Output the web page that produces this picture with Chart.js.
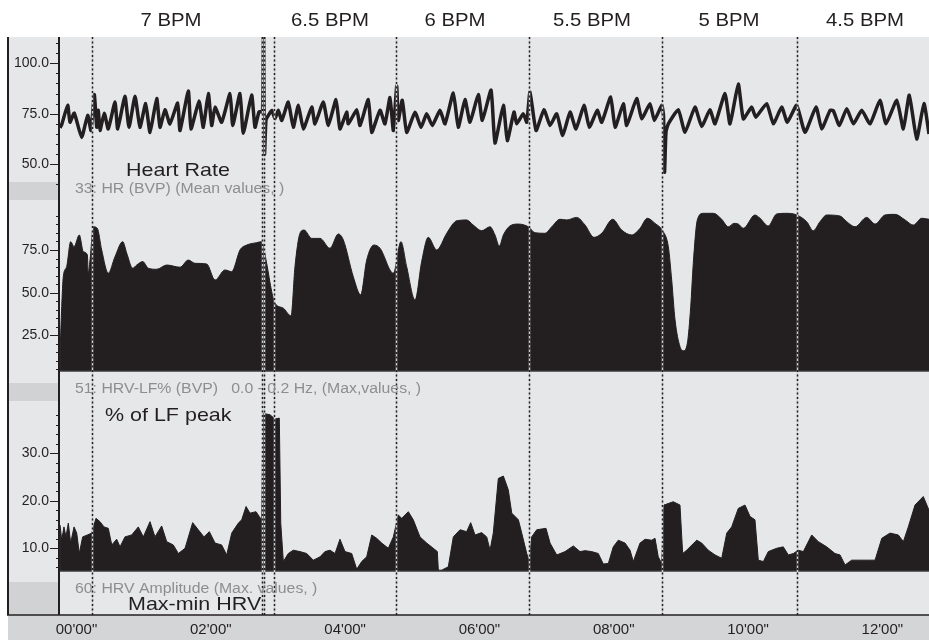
<!DOCTYPE html>
<html>
<head>
<meta charset="utf-8">
<script src="https://cdn.jsdelivr.net/npm/chart.js@4.4.1/dist/chart.umd.min.js"></script>
<style>
  html, body { margin: 0; padding: 0; background: #fff; }
  #wrap { position: relative; width: 929px; height: 641px; }
</style>
</head>
<body>
<div id="wrap"><canvas id="chart"></canvas></div>
<script>
// --- DATA (time in seconds) ---
const timeTicks = [0, 120, 240, 360, 480, 600, 720];
const epochMarks = [13.9, 165.3, 167.5, 176.5, 285.5, 404.3, 523.2, 643.8];
const bpmLabels = ['7 BPM', '6.5 BPM', '6 BPM', '5.5 BPM', '5 BPM', '4.5 BPM'];
const bpmLabelTimes = [84.4, 226.5, 338.2, 460.6, 583.0, 704.5];

// 33: HR (BVP), mean values [t, bpm]
const heartRate = [
  [-14.7, 68], [-13.0, 70], [-7.9, 79.2], [-5.8, 70.8], [-2.0, 75.3], [4.6, 63.3], [10.0, 74.2], [13.0, 66.7],
  [15.9, 84.5], [18.1, 68.3], [19.5, 76.7], [21.0, 66.7], [24.8, 75.3], [28.4, 67.5], [34.4, 80.8], [36.8, 67.5],
  [43.3, 83.7], [46.9, 68.3], [52.3, 83.7], [56.7, 68.3], [61.8, 80], [65.7, 65.8], [71.7, 82.5], [74.6, 68.3],
  [79.1, 77], [83.5, 70], [90.4, 80.3], [92.5, 66.7], [99.9, 86.3], [102.3, 67.5], [109.5, 81.3], [113.3, 68.3],
  [117.8, 85], [120.8, 69.2], [123.8, 78.3], [129.7, 70.8], [137.2, 85], [139.6, 69.2], [146.1, 85], [149.0, 65.3],
  [156.5, 84.2], [159.5, 68.3], [163.1, 76], [166.2, 76], [167.1, 120], [168.0, 55], [169.3, 72], [171.4, 74.2],
  [174.4, 76.7], [177.4, 72.5], [180.3, 76.7], [183.4, 71.7], [189.2, 80.8], [193.7, 68.3], [198.2, 79.2], [202.7, 67.5],
  [210.2, 78.3], [213.1, 70], [220.5, 80.8], [225.0, 69.2], [231.9, 82], [235.4, 67.5], [241.4, 75.8], [242.9, 70],
  [250.4, 77], [253.3, 69.2], [260.7, 82], [263.8, 65.8], [271.2, 76.7], [275.6, 70], [280.1, 83], [283.1, 66.7],
  [286.1, 88.7], [287.5, 71.7], [291.1, 81.7], [295.0, 65.8], [302.5, 75.8], [307.8, 68.3], [312.9, 75], [317.9, 69.2],
  [324.8, 76.7], [329.3, 70], [336.7, 85.3], [341.1, 68.3], [347.1, 82], [351.6, 70.8], [359.0, 84.5], [362.6, 71.7],
  [370.4, 86.7], [373.9, 60.5], [381.4, 79.2], [384.9, 61.7], [390.9, 75.8], [393.3, 70], [399.2, 75], [402.3, 70.8],
  [405.2, 85.8], [410.6, 66.7], [417.7, 77], [423.1, 69.2], [429.1, 75], [434.4, 64.2], [441.0, 75.8], [446.3, 67.5],
  [453.5, 79.2], [458.2, 68.3], [465.3, 76.7], [469.3, 70.8], [477.3, 83.3], [481.2, 68.3], [488.6, 80], [491.6, 69.2],
  [500.5, 82.5], [505.0, 72.5], [512.4, 80], [516.3, 71.7], [522.9, 79.2], [524.5, 74], [525.4, 46], [526.7, 66],
  [528.8, 70], [537.7, 77], [543.7, 65.8], [552.6, 78.3], [558.6, 68.7], [566.0, 77], [570.5, 70], [579.4, 85],
  [583.9, 70], [591.3, 89.7], [595.8, 72.5], [603.3, 78.3], [606.9, 73.3], [616.7, 80], [622.6, 70], [630.1, 78.3],
  [635.1, 70.8], [643.5, 79.2], [650.9, 65.8], [660.8, 78.3], [665.8, 67.5], [673.3, 76.7], [676.2, 76.5], [681.6, 69.2],
  [688.2, 77.5], [694.1, 70], [701.6, 76.7], [709.0, 70], [717.9, 81.7], [723.3, 70], [732.9, 81.7], [738.8, 67.5],
  [744.1, 84.2], [750.7, 62.5], [757.2, 80], [761.7, 65]
];

// 51: HRV-LF% (BVP) 0.0 - 0.2 Hz [t, %]
const lfPercent = [
  [-14.7, 14.5], [-13.2, 41.8], [-11.8, 59.4], [-8.8, 65.2], [-5.2, 79.9], [-2.2, 76.9], [2.5, 83.8], [6.1, 74],
  [9.7, 72.1], [10.5, 61.4], [12.1, 69.1], [15.0, 88.6], [18.6, 87.7], [22.5, 75], [28.4, 61.4], [34.4, 71.1],
  [41.3, 79.9], [44.9, 73.1], [50.2, 64.3], [53.8, 66.2], [59.2, 68.2], [64.2, 64.3], [71.7, 63.7], [80.6, 66.2],
  [92.5, 64.9], [99.9, 69.1], [105.9, 67.2], [116.3, 66.8], [123.8, 57.4], [132.7, 63.3], [138.7, 62.3], [146.1, 75],
  [152.1, 77.9], [161.0, 79.3], [165.5, 79.9], [169.9, 67.2], [174.4, 50.6], [177.4, 43.8], [184.8, 40.9], [191.7, 36.4],
  [195.2, 65.2], [199.7, 84.8], [203.3, 86.7], [210.2, 81.8], [217.6, 81.8], [226.5, 76], [233.9, 84.4], [238.4, 80.9],
  [247.3, 59.4], [253.9, 48.7], [259.3, 69.1], [265.8, 77.9], [271.2, 76], [283.1, 61.4], [289.9, 79.9], [295.0, 65.2],
  [302.5, 45.7], [308.4, 68.2], [314.3, 82.4], [321.8, 75], [330.8, 84.8], [338.2, 91.6], [342.7, 92.4], [348.6, 92.6],
  [354.5, 89.6], [362.0, 86.3], [369.5, 88.6], [373.9, 83.8], [377.8, 77.3], [381.4, 83.8], [387.3, 89.1], [394.8, 90.2],
  [403.7, 88.6], [409.7, 85.1], [418.6, 84.8], [424.6, 88.6], [432.0, 93], [438.0, 92.6], [446.9, 94.1], [454.4, 89.6],
  [462.4, 82.4], [469.3, 84.8], [479.1, 93], [487.1, 86.7], [496.1, 83.8], [503.5, 87.7], [510.0, 93.6], [516.9, 90.6],
  [524.3, 85.7], [528.8, 76.9], [531.8, 57.4], [534.8, 34], [539.2, 18.4], [542.2, 16], [545.8, 20.4], [548.8, 41.8],
  [551.1, 67.2], [554.7, 92.6], [560.0, 96.5], [569.0, 96.5], [576.5, 93], [582.4, 88.6], [587.5, 90.6], [591.3, 90.2],
  [595.8, 87.7], [606.2, 95.5], [610.7, 93.6], [618.1, 89.1], [625.6, 96.1], [634.6, 96.5], [643.5, 95.5], [652.4, 91.6],
  [658.3, 86.3], [664.3, 91.6], [670.3, 95.5], [682.2, 94.9], [688.2, 91.6], [695.6, 88.6], [706.0, 94.1], [713.5, 90.2],
  [722.4, 95.5], [731.3, 95.9], [740.3, 92.6], [747.7, 89.6], [755.2, 93.6], [761.7, 93]
];

// 60: HRV Amplitude, max-min HRV [t, bpm]
const hrvAmplitude = [
  [-14.7, 14.9], [-13.2, 11.7], [-11.2, 14.5], [-9.4, 12.4], [-7.3, 15.3], [-5.2, 11.1], [-2.2, 14.5], [0.2, 13.2],
  [2.5, 8.9], [5.5, 12.4], [9.7, 12.8], [13.6, 13.2], [17.4, 16.3], [21.0, 15.6], [24.6, 14.5], [28.4, 14.2],
  [31.5, 10.7], [35.9, 11.9], [38.9, 10.3], [43.3, 12.4], [49.3, 12.8], [55.2, 14.5], [59.7, 12.4], [65.7, 15.6],
  [70.1, 12.4], [76.1, 14.7], [80.6, 11.4], [86.5, 10.7], [91.0, 8.9], [97.0, 10], [103.8, 15.4], [108.8, 13.9],
  [113.9, 12.4], [118.7, 13.5], [123.8, 11.1], [129.7, 10.7], [134.2, 8.6], [138.7, 13.2], [144.6, 15.3], [147.6, 16],
  [151.5, 18.8], [155.0, 17.4], [160.4, 17.7], [163.3, 16.7], [165.5, 16], [166.6, 38.4], [172.9, 38.1], [177.4, 37.2],
  [181.2, 37.4], [182.5, 15.3], [184.8, 7.2], [189.2, 8.9], [193.7, 9.6], [199.7, 9.3], [205.7, 8.9], [211.6, 7.5],
  [217.6, 8.2], [222.0, 9.3], [226.5, 9.6], [231.0, 8.9], [235.4, 11.9], [239.9, 9.3], [245.9, 8.9], [250.4, 5.6],
  [254.8, 7.2], [259.3, 8.2], [263.8, 12.8], [268.2, 12.1], [272.7, 11.1], [278.6, 10], [283.1, 12.4], [287.5, 17],
  [290.6, 16.3], [296.5, 17.7], [300.9, 16], [306.9, 12.4], [312.9, 11.1], [318.8, 10], [322.4, 9.3], [323.3, 5.4],
  [326.3, 5.4], [332.2, 6.1], [336.7, 12.4], [342.7, 13.9], [348.6, 13.5], [352.2, 15.4], [356.1, 12.8], [362.0, 13.3],
  [366.5, 12.4], [369.5, 9.6], [372.4, 13.2], [376.9, 24.7], [381.4, 25.2], [385.8, 22.3], [388.9, 17.4], [394.8, 16],
  [397.8, 13.2], [402.3, 8.9], [404.6, 7.2], [406.7, 12.4], [411.2, 13.9], [419.5, 14.2], [423.1, 11.1], [429.1, 8.6],
  [436.5, 9.3], [443.9, 10.5], [449.9, 9.3], [454.4, 9.5], [460.3, 9.3], [466.2, 8.9], [470.7, 6.7], [475.2, 6.8],
  [479.6, 10.3], [484.1, 11.7], [490.1, 11.1], [494.6, 9.6], [497.5, 7.2], [503.5, 11.1], [508.0, 11.9], [513.9, 11.7],
  [516.9, 12.1], [519.8, 8.2], [522.9, 6.8], [524.9, 19.1], [533.2, 19.8], [539.2, 19.1], [541.6, 8.9], [545.2, 9.6],
  [554.2, 11.7], [558.6, 11.1], [564.5, 9.6], [570.5, 8.6], [576.5, 7.9], [581.0, 13.2], [585.4, 14.5], [591.3, 18.4],
  [597.3, 19.1], [601.8, 16.7], [606.2, 16], [609.2, 7.5], [613.7, 7.2], [618.1, 9.3], [625.6, 10], [631.5, 10.3],
  [636.0, 8.6], [640.5, 8.9], [644.9, 9.6], [649.4, 9.3], [656.9, 12.8], [662.8, 11.4], [670.3, 10.3], [677.7, 8.9],
  [682.2, 8.6], [686.7, 6.5], [692.6, 7.5], [700.1, 7.5], [706.0, 7.5], [713.5, 7.5], [719.5, 12.1], [726.9, 13.2],
  [734.3, 12.8], [738.8, 11.4], [743.2, 14.5], [749.2, 19.1], [756.6, 20.9], [761.7, 18]
];

const hrMajor = [50, 75, 100];
const lfMajor = [25, 50, 75];
const ampMajor = [10, 20, 30];

// --- STYLE / LAYOUT ---
const INK = '#231f20';
const BG = '#e6e7e9';
const STRIP = '#d1d2d4';
const BAND = '#d4d5d7';
const GREY_TEXT = '#8e8e8e';
const FONT = "'Liberation Sans', Arial, Helvetica, sans-serif";
const STRETCH = 1.13;

Chart.defaults.font.family = FONT;
Chart.defaults.color = INK;

const range = (a, b, s) => { const out = []; for (let v = a; v <= b + 1e-9; v += s) out.push(v); return out; };

const panels = [
  { axis: 'yHR', strip: 18, minor: range(40, 110, 5) },
  { axis: 'yLF', strip: 18, minor: range(5, 95, 5) },
  { axis: 'yAmp', strip: 33, minor: range(6, 38, 2) }
];

const noGrid = { display: false, drawTicks: false, tickLength: 0 };

function yAxis(min, max, weight, major) {
  return {
    type: 'linear', position: 'left', stack: 'panels', stackWeight: weight,
    min, max,
    afterBuildTicks: ax => { ax.ticks = major.map(v => ({ value: v })); },
    afterFit: ax => { ax.width = 50; },
    grid: noGrid, border: { display: false },
    ticks: { callback: v => v.toFixed(1), padding: 11, font: { size: 14 }, color: INK }
  };
}

function fmtTime(sec) {
  const m = Math.floor(sec / 60), s = Math.round(sec % 60);
  return String(m).padStart(2, '0') + "'" + String(s).padStart(2, '0') + '"';
}

function stretchText(ctx, text, x, y, size, color, align) {
  ctx.save();
  ctx.font = size + 'px ' + FONT;
  ctx.fillStyle = color;
  ctx.textBaseline = 'alphabetic';
  ctx.textAlign = align || 'left';
  ctx.translate(x, y);
  ctx.scale(STRETCH, 1);
  ctx.fillText(text, 0, 0);
  ctx.restore();
}

const decor = {
  id: 'decor',
  beforeDraw(chart) {
    const { ctx, chartArea: a, scales } = chart;
    ctx.save();
    ctx.fillStyle = '#fff';
    ctx.fillRect(0, 0, chart.width, chart.height);
    ctx.fillStyle = BG;
    ctx.fillRect(8, a.top, a.right - 8, a.bottom - a.top);
    ctx.fillStyle = STRIP;
    panels.forEach(p => {
      const s = scales[p.axis];
      ctx.fillRect(8, s.bottom - p.strip, s.right - 8, p.strip);
    });
    ctx.fillStyle = BAND;
    ctx.fillRect(8, a.bottom, a.right - 8, chart.height - a.bottom - 1);
    ctx.restore();
  },
  afterDatasetsDraw(chart) {
    const { ctx, chartArea: a, scales } = chart;
    ctx.save();
    // fill baselines
    ctx.strokeStyle = '#3a3a3a';
    ctx.lineWidth = 1.5;
    [['yLF', 4.1], ['yAmp', 5.2]].forEach(([id, v]) => {
      const y = scales[id].getPixelForValue(v);
      ctx.beginPath(); ctx.moveTo(a.left, y); ctx.lineTo(a.right, y); ctx.stroke();
    });
    // epoch markers
    epochMarks.forEach(t => {
      const x = Math.round(scales.x.getPixelForValue(t)) + 0.5;
      ctx.setLineDash([]);
      ctx.strokeStyle = '#cfd0d2';
      ctx.lineWidth = 1.5;
      ctx.beginPath(); ctx.moveTo(x, a.top); ctx.lineTo(x, a.bottom); ctx.stroke();
      ctx.setLineDash([2, 2.5]);
      ctx.strokeStyle = INK;
      ctx.beginPath(); ctx.moveTo(x, a.top); ctx.lineTo(x, a.bottom); ctx.stroke();
    });
    ctx.restore();
  },
  afterDraw(chart) {
    const { ctx, chartArea: a, scales } = chart;
    ctx.save();
    ctx.strokeStyle = INK;
    // tick marks
    ctx.lineWidth = 1;
    panels.forEach(p => {
      const s = scales[p.axis];
      p.minor.forEach(v => {
        const y = Math.round(s.getPixelForValue(v)) + 0.5;
        if (y < s.top || y > s.bottom) return;
        const major = s.ticks.some(t => t.value === v);
        ctx.beginPath(); ctx.moveTo(a.left - (major ? 10 : 4), y); ctx.lineTo(a.left, y); ctx.stroke();
      });
    });
    // axis line, left frame, bottom rule
    ctx.lineWidth = 2;
    ctx.beginPath(); ctx.moveTo(a.left - 1, a.top); ctx.lineTo(a.left - 1, a.bottom); ctx.stroke();
    ctx.beginPath(); ctx.moveTo(8, a.top); ctx.lineTo(8, a.bottom); ctx.stroke();
    ctx.lineWidth = 1.5;
    ctx.beginPath(); ctx.moveTo(7, a.bottom); ctx.lineTo(a.right, a.bottom); ctx.stroke();
    ctx.restore();

    // epoch titles
    bpmLabels.forEach((txt, i) => {
      stretchText(ctx, txt, scales.x.getPixelForValue(bpmLabelTimes[i]), 26, 18, INK, 'center');
    });
    // panel captions
    const hr = scales.yHR, lf = scales.yLF, amp = scales.yAmp;
    stretchText(ctx, 'Heart Rate', 126, hr.bottom - 24, 19, INK);
    stretchText(ctx, '33: HR (BVP) (Mean values, )', 75, hr.bottom - 7, 14, GREY_TEXT);
    stretchText(ctx, '51: HRV-LF% (BVP)   0.0 - 0.2 Hz, (Max,values, )', 75, lf.bottom - 8, 14, GREY_TEXT);
    stretchText(ctx, '% of LF peak', 105, amp.top + 20, 19, INK);
    stretchText(ctx, '60: HRV Amplitude (Max. values, )', 75, amp.bottom - 22, 14, GREY_TEXT);
    stretchText(ctx, 'Max-min HRV', 128, amp.bottom - 5, 19, INK);
  }
};

const toXY = arr => arr.map(([x, y]) => ({ x, y }));

new Chart(document.getElementById('chart'), {
  type: 'line',
  data: {
    datasets: [
      {
        label: 'HR', yAxisID: 'yHR', data: toXY(heartRate),
        borderColor: INK, borderWidth: 3.5, pointRadius: 0, fill: false,
        tension: 0.15, borderJoinStyle: 'round'
      },
      {
        label: 'HRV-LF%', yAxisID: 'yLF', data: toXY(lfPercent),
        borderColor: INK, backgroundColor: INK, borderWidth: 1, pointRadius: 0,
        fill: { value: 4.1 }, cubicInterpolationMode: 'monotone'
      },
      {
        label: 'HRV Amplitude', yAxisID: 'yAmp', data: toXY(hrvAmplitude),
        borderColor: INK, backgroundColor: INK, borderWidth: 1, pointRadius: 0,
        fill: { value: 5.2 }, tension: 0
      }
    ]
  },
  options: {
    responsive: true,
    maintainAspectRatio: false,
    animation: false,
    events: [],
    layout: { padding: { top: 37, left: 10, right: 0, bottom: 0 } },
    plugins: { legend: { display: false }, tooltip: { enabled: false } },
    scales: {
      x: {
        type: 'linear', min: -14.74, max: 761.7,
        afterBuildTicks: ax => { ax.ticks = timeTicks.map(v => ({ value: v })); },
        afterFit: ax => { ax.height = 26; },
        grid: noGrid, border: { display: false },
        ticks: { callback: v => fmtTime(v), padding: 6, maxRotation: 0, font: { size: 15 }, color: INK }
      },
      yAmp: yAxis(-4.04, 41.0, 214, ampMajor),
      yLF: yAxis(-13.5, 104.3, 201, lfMajor),
      yHR: yAxis(32.3, 113.0, 163, hrMajor)
    }
  },
  plugins: [decor]
});
</script>
</body>
</html>
